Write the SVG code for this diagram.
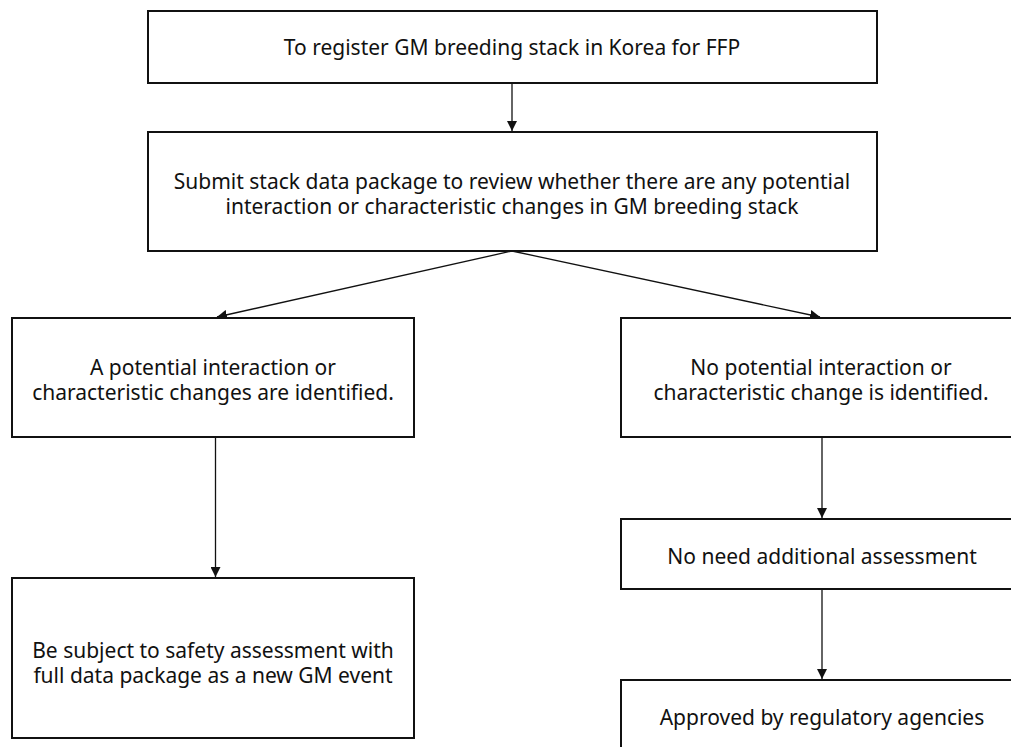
<svg xmlns="http://www.w3.org/2000/svg" width="1011" height="747" viewBox="0 0 1011 747">
<style>
.box{fill:#fff;stroke:#111;stroke-width:2}
.t{font-family:"Noto Sans","Open Sans",sans-serif;font-size:21px;fill:#111;text-anchor:middle}
.c{stroke:#111;stroke-width:1.3;fill:none;marker-end:url(#ah)}
</style>
<defs>
<marker id="ah" viewBox="0 0 10 10" refX="10" refY="5" markerWidth="10" markerHeight="10" markerUnits="userSpaceOnUse" orient="auto">
<path d="M0,0 L10,5 L0,10 z" fill="#111"/>
</marker>
</defs>
<rect width="1011" height="747" fill="#fff"/>
<g id="connectors">
<line class="c" x1="512" y1="83" x2="512" y2="131"/>
<line class="c" x1="512" y1="251" x2="217" y2="317"/>
<line class="c" x1="512" y1="251" x2="820" y2="317"/>
<line class="c" x1="215.5" y1="437" x2="215.5" y2="577"/>
<line class="c" x1="822" y1="437" x2="822" y2="518"/>
<line class="c" x1="822" y1="589" x2="822" y2="679"/>
</g>
<g id="n1">
<rect class="box" x="148" y="11" width="729" height="72"/>
<text class="t" x="512" y="55">To register GM breeding stack in Korea for FFP</text>
</g>
<g id="n2">
<rect class="box" x="148" y="132" width="729" height="119"/>
<text class="t" x="512" y="189">Submit stack data package to review whether there are any potential</text>
<text class="t" x="512" y="214">interaction or characteristic changes in GM breeding stack</text>
</g>
<g id="n3">
<rect class="box" x="12" y="318" width="402" height="119"/>
<text class="t" x="213" y="375">A potential interaction or</text>
<text class="t" x="213" y="400">characteristic changes are identified.</text>
</g>
<g id="n4">
<rect class="box" x="621" y="318" width="400" height="119"/>
<text class="t" x="821" y="375">No potential interaction or</text>
<text class="t" x="821" y="400">characteristic change is identified.</text>
</g>
<g id="n5">
<rect class="box" x="12" y="578" width="402" height="160"/>
<text class="t" x="213" y="658">Be subject to safety assessment with</text>
<text class="t" x="213" y="683">full data package as a new GM event</text>
</g>
<g id="n6">
<rect class="box" x="621" y="519" width="400" height="70"/>
<text class="t" x="822" y="564">No need additional assessment</text>
</g>
<g id="n7">
<rect class="box" x="621" y="680" width="400" height="80"/>
<text class="t" x="822" y="725">Approved by regulatory agencies</text>
</g>
</svg>
